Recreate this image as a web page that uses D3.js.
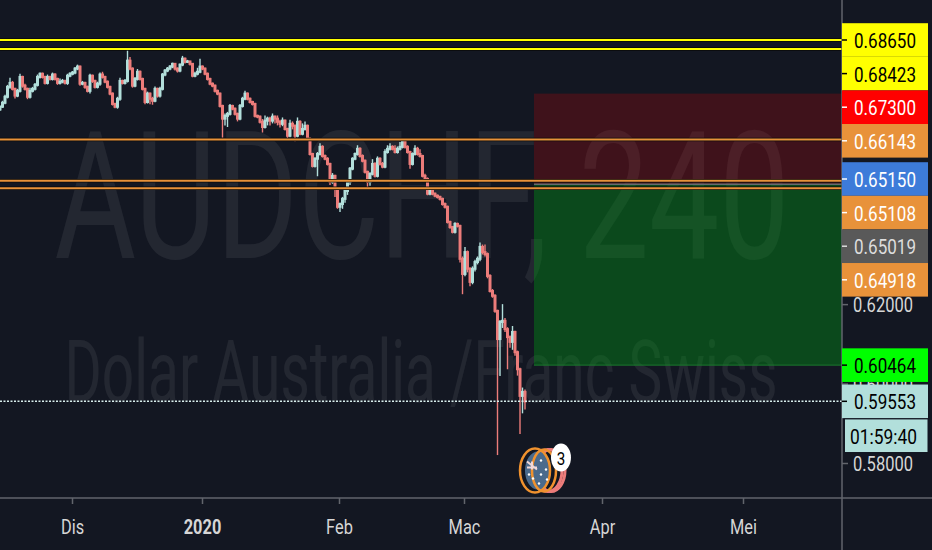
<!DOCTYPE html>
<html lang="en">
<head>
    <meta charset="UTF-8">
    <title>AUDCHF, 240</title>
    <style>
        body {
            margin: 0;
            padding: 0;
            overflow: hidden;
            background-color: #131722;
        }
        svg {
            display: block;
        }
        text {
            font-family: Roboto, Arial, sans-serif;
        }
    </style>
</head>
<body>
    <div id="chart"></div>

    <script src="https://d3js.org/d3.v7.min.js"></script>
    <script>
        // Candles (4H bars, thinned out)
        const opens = [.6690,.6697,.6707,.6722,.6747,.6757,.6742,.6725,.6737,.6772,.6750,.6742,.6722,.6737,.6742,.6752,.6772,.6780,.6772,.6757,.6772,.6767,.6778,.6767,.6757,.6760,.6762,.6757,.6775,.6780,.6783,.6793,.6798,.6755,.6757,.6747,.6737,.6775,.6762,.6747,.6755,.6778,.6772,.6760,.6747,.6730,.6704,.6697,.6717,.6762,.6757,.6762,.6813,.6793,.6750,.6767,.6785,.6767,.6742,.6709,.6730,.6717,.6712,.6742,.6725,.6742,.6778,.6788,.6793,.6798,.6805,.6793,.6788,.6803,.6818,.6810,.6811,.6805,.6775,.6780,.6785,.6798,.6793,.6780,.6767,.6755,.6750,.6737,.6730,.6699,.6667,.6674,.6679,.6699,.6692,.6679,.6667,.6699,.6717,.6730,.6717,.6709,.6704,.6674,.6672,.6659,.6646,.6662,.6667,.6662,.6672,.6667,.6659,.6654,.6662,.6641,.6624,.6654,.6649,.6624,.6659,.6629,.6641,.6649,.6616,.6578,.6548,.6566,.6578,.6596,.6573,.6566,.6553,.6508,.6523,.6490,.6445,.6452,.6465,.6485,.6508,.6541,.6566,.6578,.6591,.6573,.6561,.6533,.6508,.6528,.6553,.6523,.6566,.6553,.6546,.6583,.6591,.6596,.6591,.6583,.6591,.6596,.6611,.6596,.6583,.6553,.6578,.6591,.6578,.6573,.6523,.6515,.6478,.6490,.6478,.6473,.6470,.6465,.6452,.6445,.6407,.6394,.6382,.6402,.6397,.6314,.6276,.6331,.6289,.6256,.6289,.6306,.6314,.6344,.6331,.6326,.6271,.6233,.6221,.6183,.6112,.6155,.6158,.6137,.6117,.6105,.6130,.6079,.6036,.5969,.5979];
        const closes = [.6697,.6707,.6722,.6747,.6757,.6742,.6725,.6737,.6772,.6750,.6742,.6722,.6737,.6742,.6752,.6772,.6780,.6772,.6757,.6772,.6767,.6778,.6767,.6757,.6760,.6762,.6757,.6775,.6780,.6783,.6793,.6798,.6755,.6757,.6747,.6737,.6775,.6762,.6747,.6755,.6778,.6772,.6760,.6747,.6730,.6704,.6697,.6717,.6762,.6757,.6762,.6813,.6793,.6750,.6767,.6785,.6767,.6742,.6709,.6730,.6717,.6712,.6742,.6725,.6742,.6778,.6788,.6793,.6798,.6805,.6793,.6788,.6803,.6818,.6810,.6811,.6805,.6775,.6780,.6785,.6798,.6793,.6780,.6767,.6755,.6750,.6737,.6730,.6699,.6667,.6674,.6679,.6699,.6692,.6679,.6667,.6699,.6717,.6730,.6717,.6709,.6704,.6674,.6672,.6659,.6646,.6662,.6667,.6662,.6672,.6667,.6659,.6654,.6662,.6641,.6624,.6654,.6649,.6624,.6659,.6629,.6641,.6649,.6616,.6578,.6548,.6566,.6578,.6596,.6573,.6566,.6553,.6508,.6523,.6490,.6445,.6452,.6465,.6485,.6508,.6541,.6566,.6578,.6591,.6573,.6561,.6533,.6508,.6528,.6553,.6523,.6566,.6553,.6546,.6583,.6591,.6596,.6591,.6583,.6591,.6596,.6611,.6596,.6583,.6553,.6578,.6591,.6578,.6573,.6523,.6515,.6478,.6490,.6478,.6473,.6470,.6465,.6452,.6445,.6407,.6394,.6382,.6402,.6397,.6314,.6276,.6331,.6289,.6256,.6289,.6306,.6314,.6344,.6331,.6326,.6271,.6233,.6221,.6183,.6112,.6155,.6158,.6137,.6117,.6105,.6130,.6079,.6036,.5969,.5979,.5955];
        const highs = [.6700,.6712,.6727,.6752,.6770,.6762,.6745,.6742,.6780,.6775,.6755,.6745,.6745,.6747,.6757,.6778,.6783,.6783,.6775,.6778,.6775,.6783,.6781,.6770,.6768,.6767,.6765,.6780,.6784,.6787,.6797,.6803,.6801,.6762,.6760,.6750,.6780,.6778,.6765,.6760,.6783,.6785,.6775,.6763,.6750,.6733,.6707,.6722,.6770,.6765,.6767,.6843,.6822,.6796,.6772,.6792,.6788,.6770,.6745,.6735,.6733,.6722,.6748,.6745,.6747,.6782,.6792,.6797,.6802,.6808,.6807,.6796,.6806,.6825,.6821,.6815,.6813,.6807,.6785,.6795,.6818,.6801,.6796,.6783,.6770,.6758,.6753,.6740,.6733,.6702,.6680,.6684,.6704,.6702,.6695,.6682,.6704,.6722,.6737,.6733,.6720,.6712,.6707,.6677,.6675,.6666,.6675,.6672,.6672,.6680,.6675,.6675,.6664,.6670,.6665,.6644,.6664,.6660,.6652,.6670,.6663,.6655,.6660,.6652,.6620,.6581,.6570,.6583,.6605,.6600,.6577,.6570,.6556,.6530,.6526,.6494,.6456,.6470,.6488,.6512,.6545,.6570,.6582,.6600,.6595,.6577,.6564,.6536,.6532,.6565,.6557,.6572,.6570,.6558,.6590,.6600,.6605,.6600,.6600,.6597,.6608,.6618,.6614,.6600,.6586,.6582,.6600,.6596,.6590,.6576,.6528,.6519,.6494,.6493,.6481,.6476,.6473,.6468,.6456,.6448,.6410,.6397,.6406,.6405,.6400,.6320,.6344,.6335,.6293,.6295,.6312,.6320,.6355,.6350,.6350,.6330,.6275,.6238,.6225,.6186,.6160,.6200,.6165,.6142,.6121,.6145,.6133,.6083,.6040,.5990,.5985];
        const lows = [.6687,.6694,.6703,.6718,.6742,.6738,.6718,.6721,.6733,.6745,.6738,.6716,.6718,.6733,.6738,.6748,.6768,.6768,.6753,.6753,.6763,.6763,.6763,.6752,.6753,.6756,.6753,.6752,.6771,.6776,.6779,.6789,.6750,.6751,.6742,.6733,.6730,.6757,.6743,.6743,.6750,.6768,.6756,.6743,.6726,.6700,.6693,.6692,.6712,.6753,.6753,.6758,.6789,.6745,.6746,.6763,.6763,.6738,.6703,.6705,.6703,.6702,.6708,.6720,.6720,.6738,.6774,.6784,.6789,.6794,.6788,.6783,.6784,.6799,.6806,.6807,.6801,.6771,.6771,.6776,.6781,.6789,.6776,.6763,.6751,.6746,.6733,.6726,.6695,.6619,.6650,.6646,.6675,.6688,.6675,.6660,.6663,.6695,.6713,.6713,.6705,.6700,.6670,.6668,.6655,.6632,.6642,.6650,.6650,.6655,.6655,.6650,.6645,.6648,.6637,.6618,.6620,.6640,.6610,.6620,.6625,.6625,.6637,.6612,.6574,.6544,.6544,.6522,.6574,.6569,.6562,.6549,.6500,.6503,.6470,.6440,.6432,.6440,.6455,.6475,.6500,.6537,.6562,.6574,.6569,.6557,.6529,.6490,.6498,.6524,.6519,.6519,.6549,.6542,.6542,.6579,.6587,.6587,.6579,.6579,.6587,.6592,.6592,.6579,.6541,.6549,.6574,.6574,.6569,.6519,.6511,.6474,.6474,.6474,.6469,.6466,.6461,.6448,.6441,.6403,.6390,.6378,.6378,.6393,.6305,.6225,.6270,.6280,.6245,.6250,.6282,.6300,.6308,.6325,.6320,.6265,.6229,.6216,.6178,.5820,.6019,.6140,.6130,.6036,.6090,.6085,.6070,.6020,.5873,.5925,.5935];

        // Time axis, positions in bar numbers
        const monthBars = [28.8, 80.8, 135.6, 185.6, 240.8, 297.2];
        const monthLabels = ["Dis", "2020", "Feb", "Mac", "Apr", "Mei"];

        // Price axis
        const priceTicks = [0.62, 0.60, 0.58];

        // Horizontal levels drawn by hand on the chart
        const yellowLevels = [0.68650, 0.68423];
        const orangeLevels = [0.66143, 0.65108, 0.64918];

        // Long position box
        const stopPrice = 0.67300;
        const entryPrice = 0.65019;
        const targetPrice = 0.60464;
        const boxStartBar = 213.6;

        // Last price and price tags
        const lastPrice = 0.59553;
        const countdown = "01:59:40";
        const tagPrices = [0.68650, 0.68423, 0.67300, 0.66143, 0.65150, 0.65108, 0.65019, 0.64918];
        const lowerTagPrices = [0.60464, 0.59553];

        const width = 932, height = 550;
        const plotRight = 842, plotBottom = 498;

        const tagFill = ["#ffff00", "#ffff00", "#ff0000", "#e8923a", "#3d7bd9", "#e8923a", "#595959", "#e8923a"];
        const tagInk = ["#000", "#000", "#fff", "#fff", "#fff", "#fff", "#ddd", "#fff"];
        const lowerTagFill = ["#00ff00", "#b2dfdb"];
        const upColor = "#b2dfdb", downColor = "#ec7c7a", axisColor = "#62656c", labelColor = "#d6d6d6";

        const x = d3.scaleLinear().domain([0, 336.8]).range([0, plotRight]);
        const y = d3.scaleLinear().domain([0.58, 0.6865]).range([463, 40]);

        const svg = d3.select("#chart").append("svg")
            .attr("width", width)
            .attr("height", height);

        svg.append("rect")
            .attr("width", width)
            .attr("height", height)
            .attr("fill", "#131722");

        // Watermark
        svg.append("text")
            .attr("x", 422).attr("y", 258)
            .attr("text-anchor", "middle")
            .attr("font-size", 178)
            .attr("textLength", 735)
            .attr("lengthAdjust", "spacingAndGlyphs")
            .attr("fill", "rgba(255,255,255,0.07)")
            .text("AUDCHF, 240");

        svg.append("text")
            .attr("x", 421).attr("y", 402)
            .attr("text-anchor", "middle")
            .attr("font-size", 88)
            .attr("textLength", 713)
            .attr("lengthAdjust", "spacingAndGlyphs")
            .attr("fill", "rgba(255,255,255,0.07)")
            .text("Dolar Australia /Franc Swiss");

        // Position box
        svg.append("rect")
            .attr("x", x(boxStartBar))
            .attr("y", y(stopPrice))
            .attr("width", plotRight - x(boxStartBar))
            .attr("height", y(entryPrice) - y(stopPrice))
            .attr("fill", "rgba(240,0,0,0.2)");

        svg.append("rect")
            .attr("x", x(boxStartBar))
            .attr("y", y(entryPrice))
            .attr("width", plotRight - x(boxStartBar))
            .attr("height", y(targetPrice) - y(entryPrice))
            .attr("fill", "rgba(0,150,20,0.4)");

        svg.append("line")
            .attr("x1", x(boxStartBar)).attr("x2", plotRight)
            .attr("y1", y(entryPrice)).attr("y2", y(entryPrice))
            .attr("stroke", "#666a6e").attr("stroke-width", 1.5);

        svg.append("line")
            .attr("x1", x(boxStartBar)).attr("x2", plotRight)
            .attr("y1", y(targetPrice)).attr("y2", y(targetPrice))
            .attr("stroke", "#1c7a2e").attr("stroke-width", 1);

        // Candles
        const candles = closes.map((c, i) => ({ i, o: opens[i], h: highs[i], l: lows[i], c }));
        const candle = svg.append("g").selectAll("g")
            .data(candles)
            .enter()
            .append("g");

        candle.append("line")
            .attr("x1", d => x(d.i)).attr("x2", d => x(d.i))
            .attr("y1", d => y(d.h)).attr("y2", d => y(d.l))
            .attr("stroke", d => d.c >= d.o ? upColor : downColor)
            .attr("stroke-width", 1.4);

        candle.append("rect")
            .attr("x", d => x(d.i) - 1.5)
            .attr("y", d => y(Math.max(d.o, d.c)) - 1)
            .attr("width", 3)
            .attr("height", d => Math.abs(y(d.o) - y(d.c)) + 2)
            .attr("fill", d => d.c >= d.o ? upColor : downColor);

        // Levels, with the dark edge they have in the picture
        function drawLevels(levels, color) {
            const g = svg.append("g");
            g.selectAll(".edge").data(levels).enter().append("line")
                .attr("class", "edge")
                .attr("x1", 0).attr("x2", plotRight)
                .attr("y1", d => y(d)).attr("y2", d => y(d))
                .attr("stroke", "#0a0a0a").attr("stroke-width", 3.6);
            g.selectAll(".level").data(levels).enter().append("line")
                .attr("class", "level")
                .attr("x1", 0).attr("x2", plotRight)
                .attr("y1", d => y(d)).attr("y2", d => y(d))
                .attr("stroke", color).attr("stroke-width", 2);
        }
        drawLevels(yellowLevels, "#ffff00");
        drawLevels(orangeLevels, "#e8923a");

        // Last price line
        svg.append("line")
            .attr("x1", 0).attr("x2", plotRight)
            .attr("y1", y(lastPrice)).attr("y2", y(lastPrice))
            .attr("stroke", "#d8eeec")
            .attr("stroke-width", 1.5)
            .attr("stroke-dasharray", "2 1.5");

        // News marker under the last bars
        const marker = svg.append("g")
            .attr("transform", `translate(${x(216.4)},${y(0.5781)})`);
        marker.append("ellipse").attr("cx", 10).attr("cy", 0).attr("rx", 14).attr("ry", 21)
            .attr("fill", "none").attr("stroke", "#ec7c7a").attr("stroke-width", 3);
        marker.append("ellipse").attr("cx", 7).attr("cy", 0).attr("rx", 14).attr("ry", 21)
            .attr("fill", "none").attr("stroke", "#ec7c7a").attr("stroke-width", 3);
        marker.append("ellipse").attr("cx", -3).attr("cy", 0).attr("rx", 13).attr("ry", 19)
            .attr("fill", "#4a6a8c");
        marker.append("ellipse").attr("cx", 3).attr("cy", 0).attr("rx", 12).attr("ry", 21)
            .attr("fill", "none").attr("stroke", "#f0922e").attr("stroke-width", 2.5);
        marker.append("ellipse").attr("cx", -6).attr("cy", 0).attr("rx", 15).attr("ry", 22)
            .attr("fill", "none").attr("stroke", "#f0922e").attr("stroke-width", 2.5);
        marker.append("path")
            .attr("d", "M-14,-9L-4,-1M-14,-3H-4M-9,-9V-1")
            .attr("stroke", "#f0d8d8").attr("stroke-width", 2);
        marker.selectAll(".star")
            .data([[-8, 8], [0, -10], [5, -1], [0, 4], [-2, 13], [6, 9], [-12, 4]])
            .enter().append("circle")
            .attr("class", "star")
            .attr("cx", d => d[0]).attr("cy", d => d[1]).attr("r", 1.2)
            .attr("fill", "#fff");
        marker.append("ellipse").attr("cx", 20).attr("cy", -13).attr("rx", 10).attr("ry", 14)
            .attr("fill", "#fff");
        marker.append("text")
            .attr("x", 20).attr("y", -6)
            .attr("text-anchor", "middle")
            .attr("font-size", 19)
            .attr("transform", "translate(4,0) scale(.8,1)")
            .attr("fill", "#000")
            .text("3");

        // Axes
        const xAxis = svg.append("g")
            .attr("transform", `translate(0,${plotBottom})`)
            .call(d3.axisBottom(x)
                .tickValues(monthBars)
                .tickFormat((d, i) => monthLabels[i])
                .tickSize(6)
                .tickSizeOuter(0));
        xAxis.select(".domain").remove();
        xAxis.selectAll("line").attr("stroke", axisColor).attr("stroke-width", 1.5);
        xAxis.selectAll("text")
            .attr("y", 0).attr("dy", 36)
            .attr("font-size", 21)
            .attr("font-family", "Roboto, Arial, sans-serif")
            .attr("fill", labelColor)
            .attr("font-weight", (d, i) => monthLabels[i] === "2020" ? 700 : 400)
            .attr("transform", "scale(.78,1)");

        const yAxis = svg.append("g")
            .attr("transform", `translate(${plotRight},0)`)
            .call(d3.axisRight(y)
                .tickValues(priceTicks)
                .tickFormat(d3.format(".5f"))
                .tickSize(6)
                .tickSizeOuter(0));
        yAxis.select(".domain").remove();
        yAxis.selectAll("line").attr("stroke", axisColor).attr("stroke-width", 1.5);
        yAxis.selectAll("text")
            .attr("x", 11).attr("dy", "0.36em")
            .attr("font-size", 21)
            .attr("font-family", "Roboto, Arial, sans-serif")
            .attr("textLength", 60)
            .attr("lengthAdjust", "spacingAndGlyphs")
            .attr("fill", labelColor);

        svg.append("line")
            .attr("x1", plotRight).attr("x2", plotRight)
            .attr("y1", 0).attr("y2", height)
            .attr("stroke", axisColor).attr("stroke-width", 1.5);
        svg.append("line")
            .attr("x1", 0).attr("x2", width)
            .attr("y1", plotBottom).attr("y2", plotBottom)
            .attr("stroke", axisColor).attr("stroke-width", 1.5);

        // Price tags: pushed down so they never overlap, as the platform does
        const tagHeight = 33.6;
        function drawTag(center, text, fill, ink, left, textWidth) {
            svg.append("rect")
                .attr("x", left).attr("y", center - tagHeight / 2)
                .attr("width", 928 - left).attr("height", tagHeight)
                .attr("fill", fill);
            if (left === plotRight) {
                svg.append("line")
                    .attr("x1", plotRight).attr("x2", plotRight + 5)
                    .attr("y1", center).attr("y2", center)
                    .attr("stroke", ink).attr("stroke-width", 1.5);
            }
            svg.append("text")
                .attr("x", 854).attr("y", center + 8)
                .attr("font-size", 21)
                .attr("textLength", textWidth)
                .attr("lengthAdjust", "spacingAndGlyphs")
                .attr("fill", ink)
                .text(text);
        }

        let nextFree = 0;
        tagPrices.forEach((p, i) => {
            const center = Math.max(y(p), nextFree);
            nextFree = center + tagHeight;
            drawTag(center, d3.format(".5f")(p), tagFill[i], tagInk[i], plotRight, 62);
        });
        lowerTagPrices.forEach((p, i) => {
            drawTag(y(p), d3.format(".5f")(p), lowerTagFill[i], "#000", plotRight, 62);
        });
        // Countdown to bar close sits right under the last price tag
        svg.append("rect")
            .attr("x", 844.5).attr("y", y(lastPrice) + 17.6)
            .attr("width", 83.5).attr("height", tagHeight)
            .attr("fill", upColor)
            .attr("stroke", "#131722");
        svg.append("text")
            .attr("x", 850).attr("y", y(lastPrice) + 17.6 + tagHeight / 2 + 8)
            .attr("font-size", 21)
            .attr("textLength", 67)
            .attr("lengthAdjust", "spacingAndGlyphs")
            .attr("fill", "#000")
            .text(countdown);
    </script>
</body>
</html>
